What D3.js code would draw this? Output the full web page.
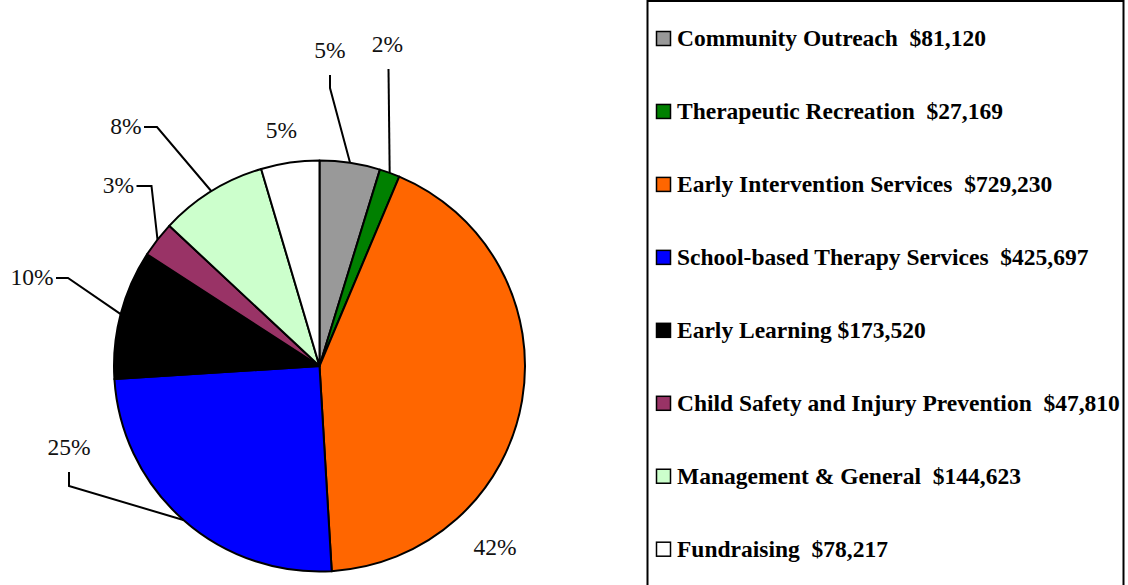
<!DOCTYPE html>
<html>
<head>
<meta charset="utf-8">
<script src="https://cdn.jsdelivr.net/npm/d3@7"></script>
<style>
  html, body { margin: 0; padding: 0; background: #fff; }
  svg { display: block; }
</style>
</head>
<body>
<div id="chart"></div>
<script>
// Program budget breakdown
const programs = [
    'Community Outreach',
    'Therapeutic Recreation',
    'Early Intervention Services',
    'School-based Therapy Services',
    'Early Learning',
    'Child Safety and Injury Prevention',
    'Management & General',
    'Fundraising'
];
const amounts = [81120, 27169, 729230, 425697, 173520, 47810, 144623, 78217];
const amountLabels = ['$81,120', '$27,169', '$729,230', '$425,697', '$173,520', '$47,810', '$144,623', '$78,217'];
const labelGaps = ['  ', '  ', '  ', '  ', ' ', '  ', '  ', '  '];
const percentLabels = ['5%', '2%', '42%', '25%', '10%', '3%', '8%', '5%'];
const sliceColors = ['#999999', '#008000', '#FF6600', '#0000FF', '#000000', '#993366', '#CCFFCC', '#FFFFFF'];

// where each percent label sits, and the elbow of its leader (null = no leader)
const labelSpots = [
    { x: 330, y: 58, lead: [[330, 75], [330, 88]] },
    { x: 387.5, y: 52, lead: [[388.5, 69]] },
    { x: 495, y: 555, lead: null },
    { x: 69, y: 455, lead: [[69, 472], [69, 486]] },
    { x: 32, y: 285, lead: [[56, 278], [68, 278]] },
    { x: 118.5, y: 193, lead: [[136.5, 186], [151.5, 186]] },
    { x: 126, y: 134, lead: [[144, 127], [157, 127]] },
    { x: 281.5, y: 138, lead: null }
];

const W = 1128, H = 585;
const cx = 319.5, cy = 366, radius = 205.5;

const svg = d3.select('#chart').append('svg').attr('width', W).attr('height', H);

const pie = d3.pie().sort(null).value(d => d);
const arcs = pie(amounts);
const arc = d3.arc().innerRadius(0).outerRadius(radius);
const rim = d3.arc().innerRadius(radius).outerRadius(radius);

const g = svg.append('g').attr('transform', `translate(${cx},${cy})`);

g.selectAll('.slice')
    .data(arcs)
    .join('path')
    .attr('class', 'slice')
    .attr('d', arc)
    .attr('fill', (d, i) => sliceColors[i])
    .attr('stroke', '#000')
    .attr('stroke-width', 2)
    .attr('stroke-linejoin', 'round');

// leader lines: from elbow points to the rim at the slice middle
const line = d3.line();
arcs.forEach((d, i) => {
    const spot = labelSpots[i];
    if (!spot.lead) return;
    const end = rim.centroid(d);
    const pts = spot.lead.map(p => [p[0] - cx, p[1] - cy]).concat([end]);
    g.append('path')
        .attr('d', line(pts))
        .attr('fill', 'none')
        .attr('stroke', '#000')
        .attr('stroke-width', 2);
});

svg.selectAll('.pct')
    .data(percentLabels)
    .join('text')
    .attr('class', 'pct')
    .attr('x', (d, i) => labelSpots[i].x)
    .attr('y', (d, i) => labelSpots[i].y)
    .attr('text-anchor', 'middle')
    .attr('font-family', "'Liberation Serif', 'Times New Roman', serif")
    .attr('font-size', 23.5)
    .attr('fill', '#111')
    .text(d => d);

// legend box
svg.append('rect')
    .attr('x', 647.5).attr('y', 1)
    .attr('width', 476).attr('height', 620)
    .attr('fill', '#fff')
    .attr('stroke', '#000')
    .attr('stroke-width', 2);

const rowY = d3.scalePoint().domain(programs).range([46, 556.7]);

const rows = svg.selectAll('.legend-row')
    .data(programs)
    .join('g')
    .attr('class', 'legend-row')
    .attr('transform', d => `translate(0,${rowY(d)})`);

rows.append('rect')
    .attr('x', 656.5).attr('y', -14.5)
    .attr('width', 14).attr('height', 14)
    .attr('fill', (d, i) => sliceColors[i])
    .attr('stroke', '#000')
    .attr('stroke-width', 1.5);

rows.append('text')
    .attr('x', 677)
    .attr('y', 0)
    .attr('font-family', "'Liberation Serif', 'Times New Roman', serif")
    .attr('font-weight', 'bold')
    .attr('font-size', 23.5)
    .style('white-space', 'pre')
    .attr('fill', '#000')
    .text((d, i) => d + labelGaps[i] + amountLabels[i]);
</script>
</body>
</html>
